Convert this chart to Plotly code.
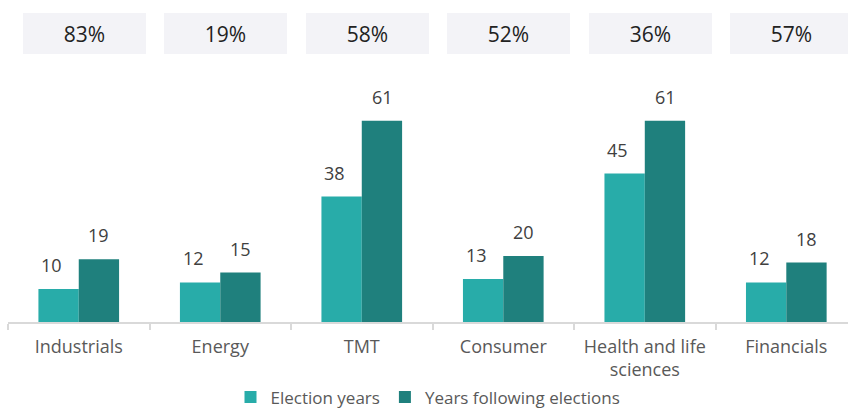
import plotly.graph_objects as go

categories = ["Industrials", "Energy", "TMT", "Consumer", "Health and life<br>sciences", "Financials"]
election_years = [10, 12, 38, 13, 45, 12]
following_years = [19, 15, 61, 20, 61, 18]
share_labels = ["83%", "19%", "58%", "52%", "36%", "57%"]

C_ELECT = "#28ACA9"
C_FOLLOW = "#1F807D"
FONT = "Open Sans"

fig = go.Figure()
fig.add_trace(go.Bar(x=categories, y=election_years, name="Election years",
                     marker=dict(color=C_ELECT, line=dict(width=0))))
fig.add_trace(go.Bar(x=categories, y=following_years, name="Years following elections",
                     marker=dict(color=C_FOLLOW, line=dict(width=0))))

annotations = []
half = 0.143
for i, (a, b) in enumerate(zip(election_years, following_years)):
    annotations.append(dict(x=i - half, y=a, xref="x", yref="y", text=str(a), showarrow=False,
                            yanchor="bottom", yshift=10, xshift=-7,
                            font=dict(family=FONT, size=18, color="#404040")))
    annotations.append(dict(x=i + half, y=b, xref="x", yref="y", text=str(b), showarrow=False,
                            yanchor="bottom", yshift=10,
                            font=dict(family=FONT, size=18, color="#404040")))
for i, s in enumerate(share_labels):
    annotations.append(dict(x=i, y=1.101, xref="x", yref="paper", text=s, showarrow=False,
                            xanchor="center", yanchor="middle", xshift=5.5,
                            width=123, height=41, bgcolor="#F3F3F7", borderpad=0, borderwidth=0,
                            font=dict(family=FONT, size=21, color="#222222")))

fig.update_layout(
    width=848, height=412,
    margin=dict(l=8, r=0, t=60, b=90, autoexpand=False),
    paper_bgcolor="white", plot_bgcolor="white",
    barmode="group", bargap=0.43, bargroupgap=0,
    showlegend=True,
    legend=dict(orientation="h", x=0.5, xanchor="center", y=-0.288, yanchor="middle",
                font=dict(family=FONT, size=17, color="#595959"), itemwidth=30,
                traceorder="normal"),
    annotations=annotations,
    font=dict(family=FONT),
)
fig.update_xaxes(type="category", range=[-0.5, 5.436], showline=True, linecolor="#D9D9D9",
                 linewidth=2, ticks="outside", tickson="boundaries", ticklen=6,
                 tickcolor="#D9D9D9", tickwidth=2, showgrid=False, ticklabelstandoff=7,
                 tickfont=dict(family=FONT, size=18, color="#595959"))
fig.update_yaxes(range=[0, 79.4], visible=False, showgrid=False, zeroline=False)

fig.write_html("out.html")
